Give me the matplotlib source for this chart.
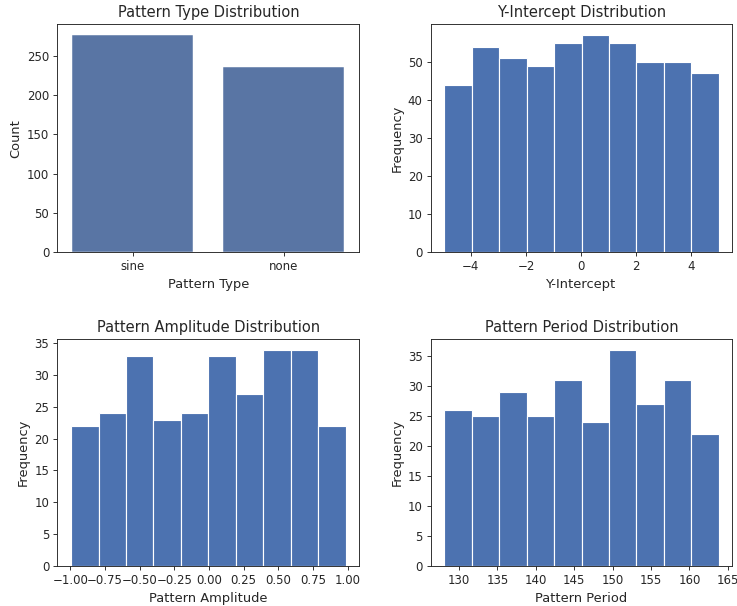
import numpy as np
import matplotlib
matplotlib.use("Agg")
import matplotlib.pyplot as plt
import seaborn as sns

sns.set_style("ticks")
plt.rcParams['font.family'] = ['DejaVu Sans']

# Pattern type counts
pattern_types = ["sine", "none"]
type_counts = [276, 236]

# Y-intercept histogram
intercept_range = (-4.96, 4.99)
intercept_counts = [44, 54, 51, 49, 55, 57, 55, 50, 50, 47]

# Pattern amplitude histogram
amplitude_range = (-0.995, 0.985)
amplitude_counts = [22, 24, 33, 23, 24, 33, 27, 34, 34, 22]
amplitude_ticks = [-1.0, -0.75, -0.5, -0.25, 0.0, 0.25, 0.5, 0.75, 1.0]

# Pattern period histogram
period_range = (128.1, 163.8)
period_counts = [26, 25, 29, 25, 31, 24, 36, 27, 31, 22]
period_ticks = [130, 135, 140, 145, 150, 155, 160, 165]

DPI = 82
TITLE_FS = 12.9
LABEL_FS = 11.4
TICK_FS = 10.3

fig = plt.figure(figsize=(737 / DPI, 606 / DPI), dpi=DPI)

col_x = [(0.0778, 0.4875), (0.5844, 0.9937)]
row_y = [(0.5837, 0.960), (0.066, 0.4411)]


def make_ax(r, c):
    (x0, x1), (y0, y1) = col_x[c], row_y[r]
    return fig.add_axes([x0, y0, x1 - x0, y1 - y0])


bar_color = "#4c72b0"
count_color = sns.desaturate(bar_color, 0.75)


def hist_panel(ax, rng, counts, title, xlabel):
    edges = np.linspace(rng[0], rng[1], len(counts) + 1)
    ax.hist(edges[:-1], bins=edges, weights=counts, color=bar_color,
            edgecolor="white", linewidth=1.0)
    ax.set_title(title, fontsize=TITLE_FS)
    ax.set_xlabel(xlabel, fontsize=LABEL_FS)
    ax.set_ylabel("Frequency", fontsize=LABEL_FS)


# Pattern type bar chart
ax = make_ax(0, 0)
xpos = np.arange(len(pattern_types))
ax.bar(xpos, type_counts, width=0.8, color=count_color,
       edgecolor="white", linewidth=0.4)
ax.set_xticks(xpos)
ax.set_xticklabels(pattern_types)
ax.set_xlim(-0.5, len(pattern_types) - 0.5)
ax.set_title("Pattern Type Distribution", fontsize=TITLE_FS)
ax.set_xlabel("Pattern Type", fontsize=LABEL_FS)
ax.set_ylabel("Count", fontsize=LABEL_FS)

hist_panel(make_ax(0, 1), intercept_range, intercept_counts,
           "Y-Intercept Distribution", "Y-Intercept")

ax3 = make_ax(1, 0)
hist_panel(ax3, amplitude_range, amplitude_counts,
           "Pattern Amplitude Distribution", "Pattern Amplitude")
ax3.set_xticks(amplitude_ticks)
ax3.xaxis.set_major_formatter(matplotlib.ticker.FormatStrFormatter("%.2f"))
ax3.xaxis.set_major_formatter(
    matplotlib.ticker.FuncFormatter(lambda v, p: f"{v:.2f}".replace("-", "\u2212")))

ax4 = make_ax(1, 1)
hist_panel(ax4, period_range, period_counts,
           "Pattern Period Distribution", "Pattern Period")
ax4.set_xticks(period_ticks)

for a in fig.axes:
    a.tick_params(labelsize=TICK_FS)

fig.savefig("out.png", dpi=DPI)
